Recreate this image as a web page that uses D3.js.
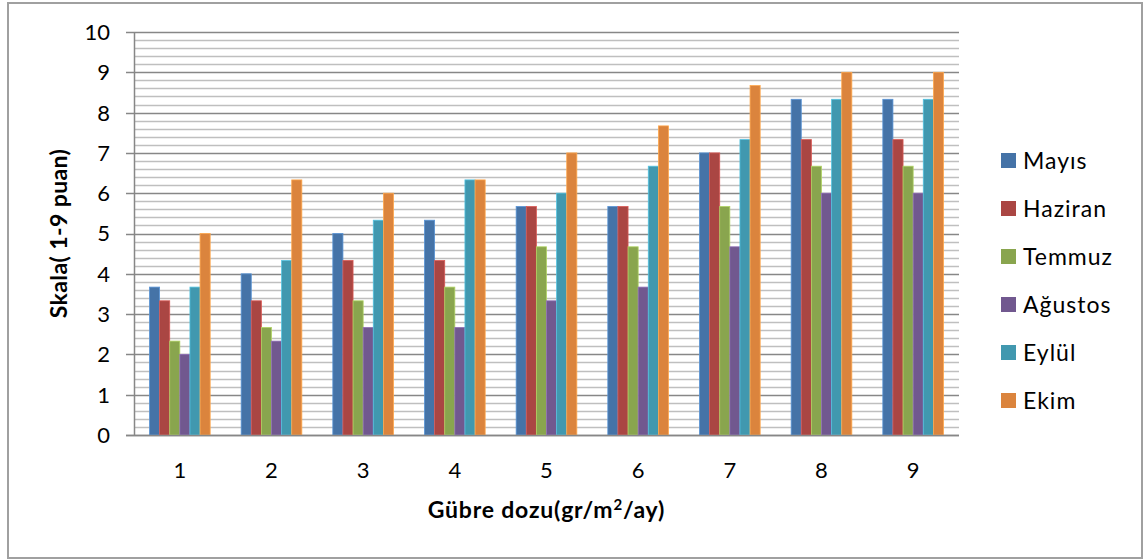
<!DOCTYPE html>
<html>
<head>
<meta charset="utf-8">
<script src="https://cdn.jsdelivr.net/npm/d3@7"></script>
<style>
  body { margin: 0; background: #fff; }
  svg text { font-family: Lato, "Open Sans", sans-serif; fill: #000; }
</style>
</head>
<body>
<div id="chart"></div>
<script>
// doses on the x axis
var categories = ["1", "2", "3", "4", "5", "6", "7", "8", "9"];
var seriesNames = ["Mayıs", "Haziran", "Temmuz", "Ağustos", "Eylül", "Ekim"];
var mayis   = [3.67, 4.00, 5.00, 5.33, 5.67, 5.67, 7.00, 8.33, 8.33];
var haziran = [3.33, 3.33, 4.33, 4.33, 5.67, 5.67, 7.00, 7.33, 7.33];
var temmuz  = [2.33, 2.67, 3.33, 3.67, 4.67, 4.67, 5.67, 6.67, 6.67];
var agustos = [2.00, 2.33, 2.67, 2.67, 3.33, 3.67, 4.67, 6.00, 6.00];
var eylul   = [3.67, 4.33, 5.33, 6.33, 6.00, 6.67, 7.33, 8.33, 8.33];
var ekim    = [5.00, 6.33, 6.00, 6.33, 7.00, 7.67, 8.67, 9.00, 9.00];
var yTicks = [0, 1, 2, 3, 4, 5, 6, 7, 8, 9, 10];
var colors = ["#4573A7", "#AA4643", "#89A54E", "#71588F", "#4198AF", "#DB843D"];

var allSeries = [mayis, haziran, temmuz, agustos, eylul, ekim];

var w = 1148, h = 560;
var plotLeft = 134, plotRight = 959, plotTop = 32, plotBottom = 435;

var svg = d3.select("#chart").append("svg")
    .attr("width", w)
    .attr("height", h);

// outer frame
svg.append("rect")
    .attr("x", 8).attr("y", 3)
    .attr("width", 1134).attr("height", 555)
    .attr("fill", "#fff")
    .attr("stroke", "#a0a0a0")
    .attr("stroke-width", 2);

var x0 = d3.scaleBand()
    .domain(categories)
    .range([plotLeft, plotRight])
    .paddingInner(0.338)
    .paddingOuter(0.169);

var x1 = d3.scaleBand()
    .domain(seriesNames)
    .range([0, x0.bandwidth()]);

var y = d3.scaleLinear()
    .domain([0, 10])
    .range([plotBottom, plotTop]);

// minor gridlines every 0.2
var minor = d3.range(0, 50).map(function(i) { return i / 5; })
    .filter(function(v) { return Math.abs(v - Math.round(v)) > 0.01; });
svg.append("g").selectAll("line")
    .data(minor)
    .enter().append("line")
    .attr("x1", plotLeft).attr("x2", plotRight)
    .attr("y1", function(d) { return Math.round(y(d)) + 0.5; })
    .attr("y2", function(d) { return Math.round(y(d)) + 0.5; })
    .attr("stroke", "#bfbfbf")
    .attr("stroke-width", 1.5);

// major gridlines + ticks
svg.append("g").selectAll("line")
    .data(yTicks)
    .enter().append("line")
    .attr("x1", plotLeft - 8).attr("x2", plotRight)
    .attr("y1", function(d) { return Math.round(y(d)) + 0.5; })
    .attr("y2", function(d) { return Math.round(y(d)) + 0.5; })
    .attr("stroke", "#878787")
    .attr("stroke-width", 1.5);

// y axis line
svg.append("line")
    .attr("x1", plotLeft + 0.5).attr("x2", plotLeft + 0.5)
    .attr("y1", plotTop).attr("y2", plotBottom)
    .attr("stroke", "#878787")
    .attr("stroke-width", 1.5);

// y labels
svg.append("g").selectAll("text")
    .data(yTicks)
    .enter().append("text")
    .attr("x", 110)
    .attr("y", function(d) { return y(d); })
    .attr("dy", "0.36em")
    .attr("text-anchor", "end")
    .style("font-size", "22px")
    .text(function(d) { return d; });

// bars
var groups = svg.append("g").selectAll("g")
    .data(categories)
    .enter().append("g")
    .attr("transform", function(d) { return "translate(" + x0(d) + ",0)"; });

groups.selectAll("rect")
    .data(function(d, i) {
        return seriesNames.map(function(s, j) {
            return { name: s, value: allSeries[j][i], color: colors[j] };
        });
    })
    .enter().append("rect")
    .attr("x", function(d) { return x1(d.name); })
    .attr("width", x1.bandwidth())
    .attr("y", function(d) { return y(d.value); })
    .attr("height", function(d) { return y(0) - y(d.value); })
    .attr("fill", function(d) { return d.color; })
    .attr("stroke", function(d) { return d3.color(d.color).brighter(0.7); })
    .attr("stroke-width", 0.8);

// x axis line
svg.append("line")
    .attr("x1", plotLeft - 8).attr("x2", plotRight)
    .attr("y1", plotBottom + 0.5).attr("y2", plotBottom + 0.5)
    .attr("stroke", "#878787")
    .attr("stroke-width", 1.5);

// x labels
svg.append("g").selectAll("text")
    .data(categories)
    .enter().append("text")
    .attr("x", function(d) { return x0(d) + x0.bandwidth() / 2; })
    .attr("y", 478)
    .attr("text-anchor", "middle")
    .style("font-size", "22px")
    .text(function(d) { return d; });

// axis titles
var xt = svg.append("text")
    .attr("x", (plotLeft + plotRight) / 2)
    .attr("y", 518)
    .attr("text-anchor", "middle")
    .style("font-size", "23px")
    .style("letter-spacing", "0.8px")
    .style("font-weight", "bold");
xt.append("tspan").text("Gübre dozu(gr/m");
xt.append("tspan").attr("dy", -8).style("font-size", "15px").text("2");
xt.append("tspan").attr("dy", 8).text("/ay)");

svg.append("text")
    .attr("transform", "translate(67," + ((plotTop + plotBottom) / 2) + ") rotate(-90)")
    .attr("text-anchor", "middle")
    .style("font-size", "23px")
    .style("letter-spacing", "0.4px")
    .style("font-weight", "bold")
    .text("Skala( 1-9 puan)");

// legend
var legend = svg.append("g").selectAll("g")
    .data(seriesNames)
    .enter().append("g")
    .attr("transform", function(d, i) { return "translate(1001," + (160.5 + i * 48) + ")"; });

legend.append("rect")
    .attr("x", 0).attr("y", -7.5)
    .attr("width", 15).attr("height", 15)
    .attr("fill", function(d, i) { return colors[i]; });

legend.append("text")
    .attr("x", 22)
    .attr("dy", "0.36em")
    .style("font-size", "23px")
    .style("letter-spacing", "1px")
    .text(function(d) { return d; });
</script>
</body>
</html>
